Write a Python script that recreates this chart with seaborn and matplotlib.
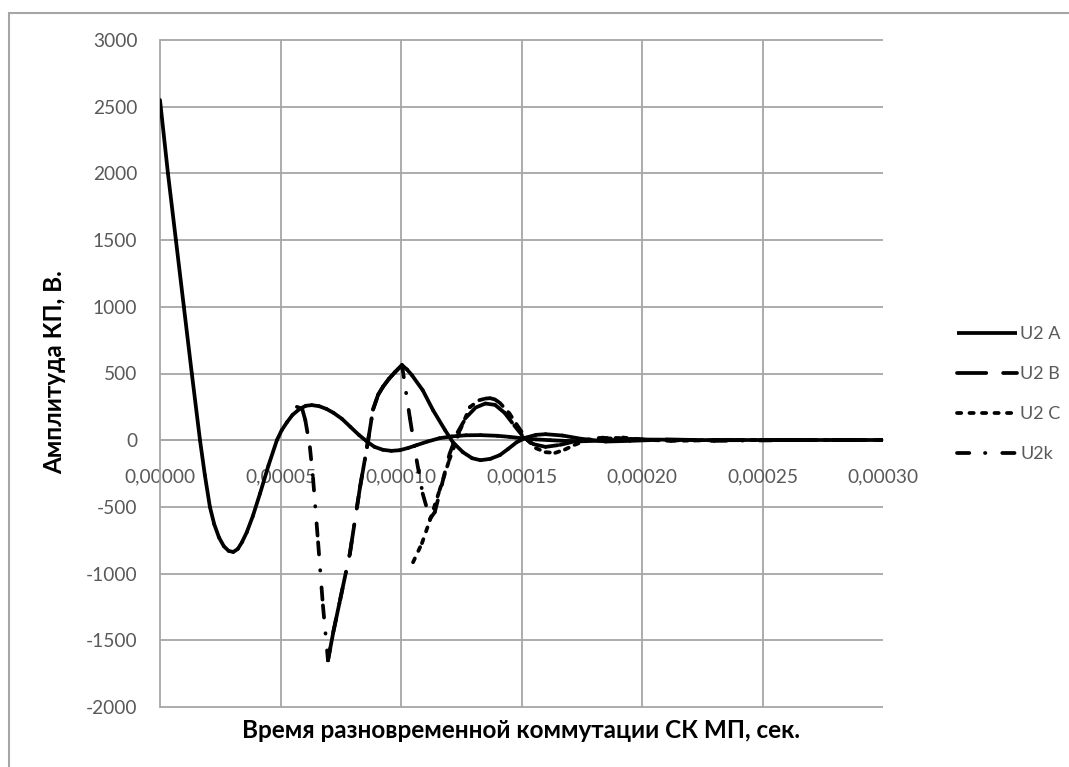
import numpy as np
import pandas as pd
import matplotlib
matplotlib.use("Agg")
import matplotlib.pyplot as plt
import seaborn as sns
from matplotlib.lines import Line2D
from matplotlib.patches import Rectangle
from matplotlib import font_manager
from matplotlib.ft2font import FT2Font
from matplotlib.ticker import FuncFormatter

# ---------------- data (time in microseconds, amplitude in V) ----------------
series_names = ["U2 A", "U2 B", "U2 C", "U2k"]

t_A = [0, 3.3, 6.6, 9.9, 13.2, 16.6, 18.6, 20.7, 22.5, 24.5, 26.5, 28.5, 30.4, 32.3,
       34, 36, 38.5, 41.5, 45, 48.5, 50.5, 52.7, 55, 58, 60.5, 63, 66, 69, 72, 75.5,
       79, 82.5, 86, 89, 92.5, 96, 99.5, 103, 106.5, 111, 116, 121, 127, 133, 140,
       145, 150, 156, 162, 168, 175, 182, 190, 200, 210, 225, 240, 270, 300]
v_A = [2550, 2000, 1500, 1000, 500, 0, -260, -500, -630, -730, -795, -830, -838, -815,
       -765, -690, -570, -400, -190, 0, 75, 135, 190, 235, 258, 263, 255, 235, 205, 160,
       100, 40, -12, -50, -72, -80, -75, -58, -37, -10, 15, 28, 37, 38, 33,
       25, 15, 6, 0, -5, -8, -4, 3, 5, 4, 1, 0, 0, 0]

t_B = [69.7, 72, 74.7, 78.8, 83, 85.9, 88.4, 90.5, 92.5, 95, 97.5, 100.4, 102.5, 104.5,
       109, 113.3, 118.3, 121.5, 125.7, 129.5, 133, 137, 141, 144.5, 148, 152, 156, 160,
       167, 175, 185, 195, 210, 230, 260, 300]
v_B = [-1650, -1430, -1200, -848, -352, -52, 230, 340, 400, 460, 510, 563, 530, 488,
       375, 225, 75, -15, -90, -135, -150, -140, -112, -65, -15, 20, 40, 45,
       35, 10, -10, -5, 5, 0, 0, 0]

t_C = [105, 108.7, 112, 116, 120, 124.5, 128.6, 132.5, 135, 137, 139, 141, 145, 149,
       152.5, 156, 160, 164, 168, 172, 177, 184, 192, 200, 212, 230, 260, 300]
v_C = [-915, -772, -600, -375, -150, 75, 248, 300, 312, 315, 305, 280, 200, 90,
       0, -60, -90, -95, -70, -35, 0, 20, 20, 5, -5, 0, 0, 0]

t_k = [56.8, 59, 60.3, 62.2, 63.5, 65.6, 67.6, 69.7, 72, 74.7, 78.8, 83, 85.9, 88.4,
       90.5, 92.5, 95, 97.5, 100.4, 103.7, 106.5, 109, 112, 114, 117, 120, 123.5, 127,
       131, 135, 139, 143, 147, 151, 155, 160, 166, 173, 182, 195, 210, 230, 260, 300]
v_k = [250, 235, 150, -52, -285, -765, -1238, -1650, -1430, -1200, -848, -352, -52, 230,
       340, 400, 460, 510, 563, 165, -150, -400, -590, -540, -330, -110, 60, 170,
       245, 275, 265, 205, 110, 20, -30, -50, -35, -5, 15, 10, 0, -5, 0, 0]

x_ticks_s = [0, 5e-5, 1e-4, 1.5e-4, 2e-4, 2.5e-4, 3e-4]
y_ticks = [-2000, -1500, -1000, -500, 0, 500, 1000, 1500, 2000, 2500, 3000]

x_label = "Время разновременной коммутации СК МП, сек."
y_label = "Амплитуда КП, В."

# ---------------- style ----------------
sns.set_style("white")


def pick_font():
    for fam in ["Lato", "Open Sans", "Noto Sans"]:
        try:
            path = font_manager.findfont(font_manager.FontProperties(family=fam),
                                         fallback_to_default=False)
            cm = FT2Font(path).get_charmap()
            if ord("Д") in cm and ord("п") in cm:
                return fam
        except Exception:
            pass
    return "DejaVu Sans"


FONT = pick_font()
plt.rcParams["font.family"] = [FONT, "DejaVu Sans"]

W, H = 1069, 767
FS = 13.8
LFS = 13
GRID = "#a6a6a6"
TXT = "#595959"
LW = 2.7

dash_map = {"U2 A": "", "U2 B": (7.8, 4.5), "U2 C": (1.13, 2.2),
            "U2k": (3.27, 4.2, 0.1, 4.5)}

fig = plt.figure(figsize=(W / 100, H / 100), dpi=100)
ax = fig.add_axes([160 / W, 1 - 707 / H, 723 / W, 667 / H])

# Long-form table: each consecutive pair of read points is its own unit, so that the
# dash pattern restarts on every segment (as the original spreadsheet chart does).
rows = []
seg = 0
for name, ts, vs in zip(series_names, [t_A, t_B, t_C, t_k], [v_A, v_B, v_C, v_k]):
    for i in range(len(ts) - 1):
        rows.append((ts[i] * 1e-6, vs[i], seg, name))
        rows.append((ts[i + 1] * 1e-6, vs[i + 1], seg, name))
        seg += 1
df = pd.DataFrame(rows, columns=["t", "v", "seg", "series"])

sns.lineplot(data=df, x="t", y="v", style="series", style_order=series_names,
             units="seg", estimator=None, dashes=dash_map, color="black",
             linewidth=LW, sort=False, legend=False, ax=ax,
             solid_capstyle="round", dash_capstyle="round", solid_joinstyle="round",
             zorder=3)

ax.set_xlim(0, 3e-4)
ax.set_ylim(-2000, 3000)
ax.set_xticks(x_ticks_s)
ax.set_yticks(y_ticks)
ax.xaxis.set_major_formatter(FuncFormatter(lambda x, _: f"{x:.5f}".replace(".", ",")))
ax.yaxis.set_major_formatter(FuncFormatter(lambda y, _: f"{int(round(y))}"))
ax.set_xlabel("")
ax.set_ylabel("")

# gridlines (no vertical line at the right edge, as in the original)
ax.grid(False)
ax.hlines(y_ticks, 0, 3e-4, colors=GRID, lw=1.3, zorder=0, clip_on=False)
ax.vlines(x_ticks_s[1:-1], -2000, 3000, colors=GRID, lw=1.3, zorder=0, clip_on=False)

for s in ["top", "right"]:
    ax.spines[s].set_visible(False)
ax.spines["left"].set_color(GRID)
ax.spines["left"].set_linewidth(1.3)
ax.spines["bottom"].set_position(("data", 0))
ax.spines["bottom"].set_color(GRID)
ax.spines["bottom"].set_linewidth(1.3)
ax.spines["bottom"].set_zorder(0)

ax.tick_params(axis="y", direction="out", length=5.8, width=1.1, color=GRID,
               labelcolor=TXT, labelsize=FS, pad=10.5)
ax.tick_params(axis="x", length=0, labelcolor=TXT, labelsize=FS, pad=20)

fig.text(521 / W, 1 - 730 / H, x_label, ha="center", va="center",
         fontsize=17.5, fontweight="bold", color="black")
fig.text(55 / W, 1 - 372 / H, y_label, ha="center", va="center", rotation=90,
         fontsize=17.5, fontweight="bold", color="black")

handles = []
for name in series_names:
    d = dash_map[name]
    if d == "":
        handles.append(Line2D([0], [0], color="black", lw=LW, linestyle="-",
                              solid_capstyle="butt"))
    else:
        handles.append(Line2D([0], [0], color="black", lw=LW, dashes=d,
                              dash_capstyle="round"))
leg = fig.legend(handles, series_names, loc="center left",
                 bbox_to_anchor=(957 / W, 1 - 394 / H), frameon=False,
                 handlelength=3.33, handletextpad=0.17, labelspacing=1.33,
                 borderpad=0, borderaxespad=0, fontsize=LFS)
for t in leg.get_texts():
    t.set_color(TXT)

fig.add_artist(Rectangle((9 / W, -0.05), 1.2, (1 - 13 / H) + 0.05,
                         transform=fig.transFigure, fill=False,
                         edgecolor=GRID, lw=1.5))

fig.savefig("out.png", dpi=100)
